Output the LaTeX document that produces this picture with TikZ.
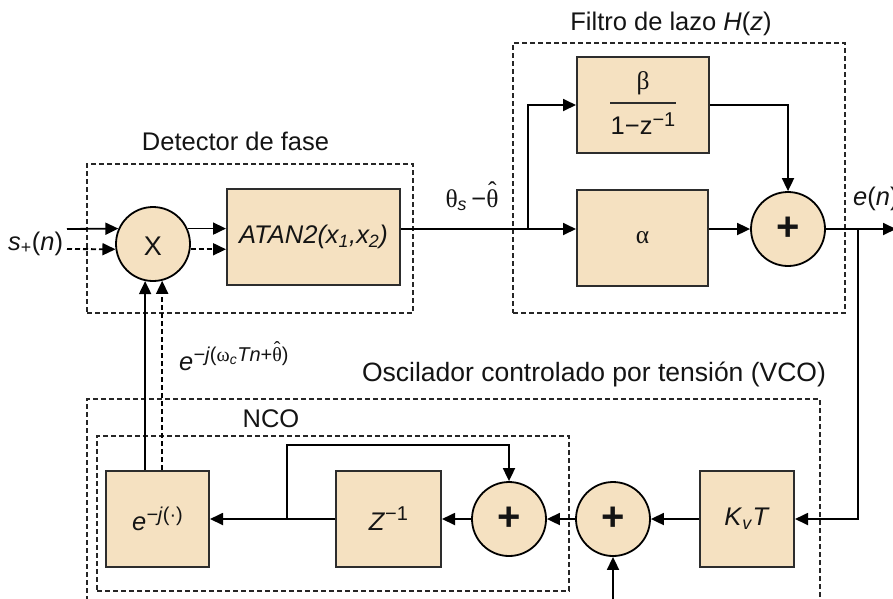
\documentclass[tikz,border=0pt]{standalone}
\usepackage{fontspec}
\setmainfont{Liberation Sans}
\newfontfamily\grk{Liberation Serif}
\usetikzlibrary{arrows.meta,calc}
\definecolor{tanfill}{RGB}{245,225,193}
\definecolor{edgec}{RGB}{45,45,45}
\definecolor{txt}{RGB}{20,20,20}
\newcommand\thhat{{\grk\ooalign{θ\cr\hidewidth\raisebox{0.30em}{ˆ}\hidewidth\cr}}}
\newcommand\supsz{\fontsize{20}{22}\selectfont}
\begin{document}
\begin{tikzpicture}[x=1pt,y=-1pt,
  every node/.style={font=\fontsize{25.5}{30}\selectfont, inner sep=0pt, text=txt},
  blk/.style={draw=edgec, line width=2pt, fill=tanfill, minimum height=96pt},
  sumc/.style={circle, draw=black, line width=1.8pt, fill=tanfill, minimum size=74pt},
  plussign/.style={font=\fontsize{40}{40}\selectfont\bfseries},
  sig/.style={line width=1.8pt, draw=black, -{Triangle[length=13pt,width=12pt]}},
  sigd/.style={sig, dash pattern=on 5pt off 3pt},
  wire/.style={line width=1.8pt, draw=black},
  grp/.style={draw=black!85, line width=1.4pt, dash pattern=on 5pt off 3pt, fill=none},
]
\useasboundingbox (0,0) rectangle (893,598);
\clip (0,0) rectangle (893,598);

% group boxes
\node[grp, minimum width=326pt, minimum height=149pt] (detbox) at (250,238.5) {};
\node[grp, minimum width=332pt, minimum height=270pt] (filtbox) at (679,178) {};
\node[grp, minimum width=733pt, minimum height=241pt] (vcobox) at (453.5,519.5) {};
\node[grp, minimum width=472pt, minimum height=155pt] (ncobox) at (333,513.5) {};

% titles
\node[anchor=base] (dett) at (235.5,150) {Detector de fase};
\node[anchor=base] (filtt) at (671,30) {Filtro de lazo \textit{H}(\textit{z})};
\node[anchor=base] (vcot) at (594,381) {\fontsize{26.5}{30}\selectfont Oscilador controlado por tensión (VCO)};
\node[anchor=base] (ncot) at (271,427) {NCO};

% phase detector
\node[sumc] (mult) at (153,244) {};
\node at ($(mult.center)+(0,2)$) {\fontsize{27}{30}\selectfont X};
\node[blk, minimum width=173pt] (atan) at (313.5,237) {\textit{ATAN2(x\textsubscript{1},x\textsubscript{2})}};

% loop filter
\node[blk, minimum width=132pt] (beta) at (643,105) {};
\node (betanum) at (643,83) {\grk β};
\node (betaden) at (643,124) {1−z\raisebox{8pt}{\supsz−1}};
\draw[line width=1.6pt, edgec] (beta.center) ++(-33,-2) coordinate (fl) -- ++(66,0) coordinate (fr);
\node[blk, minimum width=131pt] (alpha) at (642.5,238) {\grk α};
\node[sumc] (plus1) at (788,229) {};
\node[plussign] at (plus1) {+};

% VCO
\node[blk, minimum width=103pt] (ebox) at (157.5,519) {\textit{e}\raisebox{9pt}{\supsz\textit{−j}(·)}};
\node[blk, minimum width=105pt] (zbox) at (388.5,519) {\textit{Z}\raisebox{10pt}{\supsz−1}};
\node[sumc] (plus2) at (509,519) {};
\node[plussign] at (plus2) {+};
\node[sumc] (plus3) at (613,519) {};
\node[plussign] at (plus3) {+};
\node[blk, minimum width=94pt] (kvt) at (747,519) {\textit{K}\textsubscript{\textit{v}}\textit{T}};

% signal labels
\node[anchor=base west] (slbl) at (8,250) {\textit{s}\textsubscript{+}(\textit{n})};
\node[anchor=base] (thlbl) at (472,207) {{\grk θ}\textsubscript{\textit{s}}\,−\thhat};
\node[anchor=base west] (enlbl) at (853,205) {\textit{e}(\textit{n})};
\node[anchor=base west] (explbl) at (179,370) {\textit{e}\raisebox{9pt}{\supsz\textit{−j}({\grk ω}\textsubscript{\textit{c}}\textit{Tn}+\thhat)}};

% coordinates
\coordinate (in1) at (67,229);
\coordinate (in2) at (67,249);
\coordinate (split) at (528,229);
\coordinate (fb) at (858,229);
\coordinate (eout) at (896,229);
\coordinate (nb) at (287,519);
\coordinate (vin) at (613,605);

% connectors: detector
\draw[sig] (in1) -- (mult.156);
\draw[sigd] (in2) -- (mult.188);
\draw[sig] (mult.24) -- (atan.west |- mult.24);
\draw[sigd] (mult.-8) -- (atan.west |- mult.-8);
\draw[wire] (atan.east |- split) -- (split);

% filter
\draw[sig] (split) -- (alpha.west |- split);
\draw[sig] (split) |- (beta.west);
\draw[sig] (beta.east) -| (plus1.north);
\draw[sig] (alpha.east |- plus1) -- (plus1.west);
\draw[sig] (plus1.east) -- (eout);
\draw[sig] (fb) |- (kvt.east);

% VCO chain
\draw[sig] (kvt.west) -- (plus3.east);
\draw[sig] (plus3.west) -- (plus2.east);
\draw[sig] (plus2.west) -- (zbox.east);
\draw[sig] (zbox.west) -- (ebox.east);
\draw[sig] (nb) -- ++(0,-74) -| (plus2.north);
\draw[sig] (vin) -- (plus3.south);

% feedback to multiplier
\draw[sig] (ebox.north -| mult.-102) -- (mult.-102);
\draw[sigd] (ebox.north -| mult.-76) -- (mult.-76);
\end{tikzpicture}
\end{document}
